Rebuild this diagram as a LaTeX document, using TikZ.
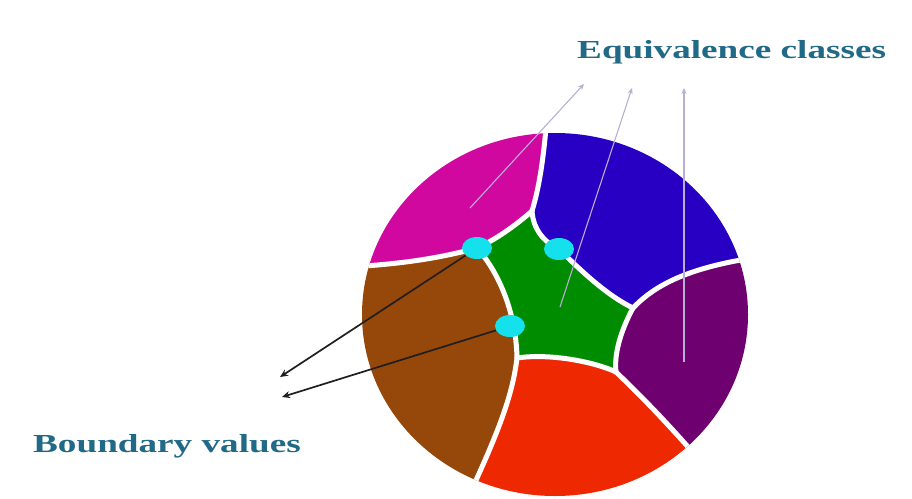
\documentclass[tikz,border=0pt]{standalone}
\usepackage{fontspec}
\setmainfont{Liberation Serif}
\newfontfamily\lblfont{Liberation Serif Bold}
\usetikzlibrary{arrows.meta,shapes.geometric}
\definecolor{cMag}{RGB}{208,8,160}
\definecolor{cBlue}{RGB}{40,0,195}
\definecolor{cPur}{RGB}{110,0,112}
\definecolor{cRed}{RGB}{238,40,0}
\definecolor{cBrown}{RGB}{150,72,10}
\definecolor{cGreen}{RGB}{0,140,0}
\definecolor{cCyan}{RGB}{20,225,235}
\definecolor{cText}{RGB}{32,105,135}
\definecolor{cPtr}{RGB}{185,175,212}
\definecolor{cDark}{RGB}{35,30,30}
\begin{document}
\begin{tikzpicture}[x=1pt,y=-1pt,
  border/.style={draw=white,line width=5pt,line cap=round},
  dotnode/.style={ellipse,fill=cCyan,draw=none,minimum width=30pt,minimum height=22pt,inner sep=0pt},
  label/.style={text=cText,inner sep=0pt,anchor=base west},
  pointer/.style={draw=cPtr,line width=1.1pt,-{Stealth[length=6pt,width=5pt]}},
  bpointer/.style={draw=cDark,line width=1.7pt,-{Stealth[open,length=8pt,width=7pt]}}]
\useasboundingbox (0,0) rectangle (912,498);
\fill[white] (0,0) rectangle (912,498);
% junctions
\coordinate (T) at (532,211);
\coordinate (A) at (477,248);
\coordinate (B) at (559,249);
\coordinate (R) at (633,308);
\coordinate (S) at (616,372);
\coordinate (Q) at (517,358);
\coordinate (C) at (510,326);
\coordinate (eT) at (548,100);
\coordinate (eA) at (330,268);
\coordinate (eR) at (775,255);
\coordinate (eS) at (715,478);
\coordinate (eQ) at (460,515);
\begin{scope}
\path[clip] (555,314.5) ellipse [x radius=193, y radius=181.5];
% magenta
\fill[cMag] (eA) .. controls (400,265) and (440,258) .. (A)
  .. controls (495,240) and (515,226) .. (T)
  .. controls (540,185) and (545,150) .. (eT) -- (300,100) -- (300,268) -- cycle;
% blue
\fill[cBlue] (T) .. controls (533,228) and (543,242) .. (B)
  .. controls (582,272) and (608,296) .. (R)
  .. controls (655,285) and (690,265) .. (eR) -- (800,250) -- (800,90) -- (548,90) -- (eT)
  .. controls (545,150) and (540,185) .. (T) -- cycle;
% purple
\fill[cPur] (R) .. controls (620,332) and (614,355) .. (S)
  .. controls (640,395) and (670,425) .. (eS) -- (800,500) -- (800,255) -- (eR)
  .. controls (690,265) and (655,285) .. (R) -- cycle;
% red
\fill[cRed] (S) .. controls (640,395) and (670,425) .. (eS) -- (715,540) -- (460,540) -- (eQ)
  .. controls (495,440) and (512,400) .. (Q)
  .. controls (550,353) and (595,362) .. (S) -- cycle;
% brown
\fill[cBrown] (eA) .. controls (400,265) and (440,258) .. (A)
  .. controls (497,270) and (516,310) .. (Q)
  .. controls (512,400) and (495,440) .. (eQ) -- (300,540) -- (300,268) -- cycle;
% green
\fill[cGreen] (A) .. controls (495,240) and (515,226) .. (T)
  .. controls (533,228) and (543,242) .. (B)
  .. controls (582,272) and (608,296) .. (R)
  .. controls (620,332) and (614,355) .. (S)
  .. controls (595,362) and (550,353) .. (Q)
  .. controls (516,310) and (497,270) .. (A) -- cycle;
% white borders
\draw[border] (T) .. controls (540,185) and (545,150) .. (eT);
\draw[border] (A) .. controls (440,258) and (400,265) .. (eA);
\draw[border] (A) .. controls (495,240) and (515,226) .. (T);
\draw[border] (T) .. controls (533,228) and (543,242) .. (B);
\draw[border] (B) .. controls (582,272) and (608,296) .. (R);
\draw[border] (R) .. controls (655,285) and (690,265) .. (eR);
\draw[border] (R) .. controls (620,332) and (614,355) .. (S);
\draw[border] (S) .. controls (640,395) and (670,425) .. (eS);
\draw[border] (S) .. controls (595,362) and (550,353) .. (Q);
\draw[border] (Q) .. controls (512,400) and (495,440) .. (eQ);
\draw[border] (A) .. controls (497,270) and (516,310) .. (Q);
\end{scope}
% equivalence-class pointers
\coordinate (p1) at (470,208);
\coordinate (p2) at (560,307);
\coordinate (p3) at (684,362);
\coordinate (t1) at (584,84);
\coordinate (t2) at (632,88);
\coordinate (t3) at (684,88);
\draw[pointer] (p1) -- (t1);
\draw[pointer] (p2) -- (t2);
\draw[pointer] (p3) -- (t3);
% boundary dots
\node[dotnode] (dA) at (A) {};
\node[dotnode] (dB) at (B) {};
\node[dotnode] (dC) at (C) {};
% boundary pointers
\coordinate (b1) at (280,377);
\coordinate (b2) at (282,397);
\draw[bpointer] (dA) -- (b1);
\draw[bpointer] (dC) -- (b2);
% labels
\node[label] (eq) at (577,58) {\lblfont\fontsize{26}{30}\selectfont\scalebox{1.43}[1]{Equivalence classes}};
\node[label] (bv) at (33,452) {\lblfont\fontsize{26}{30}\selectfont\scalebox{1.43}[1]{Boundary values}};
\end{tikzpicture}
\end{document}
